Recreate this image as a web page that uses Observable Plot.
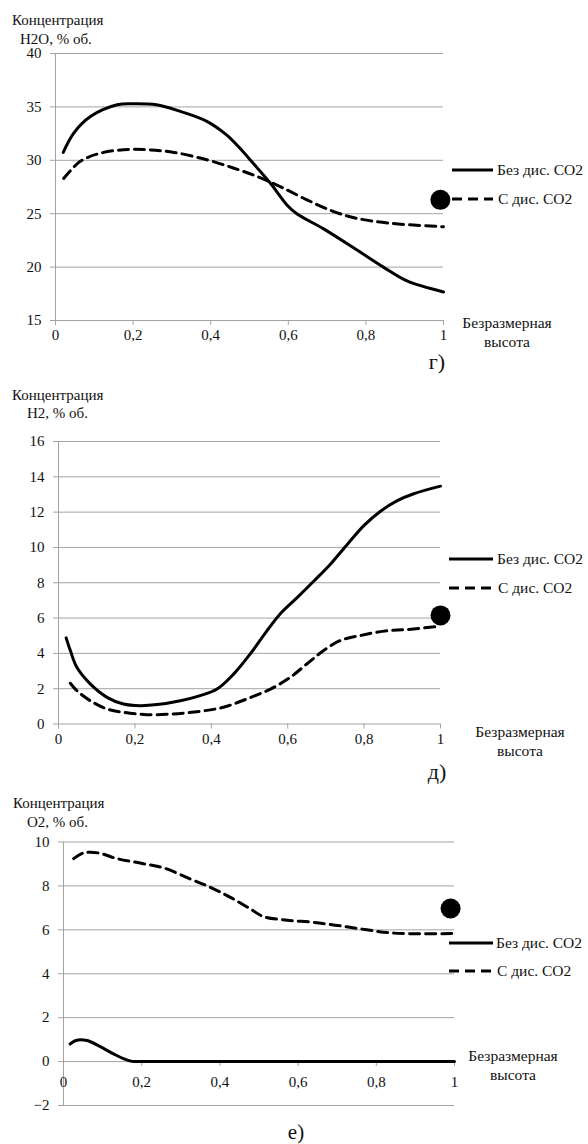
<!DOCTYPE html>
<html>
<head>
<meta charset="utf-8">
<script src="https://cdn.jsdelivr.net/npm/d3@7"></script>
<script src="https://cdn.jsdelivr.net/npm/@observablehq/plot@0.6"></script>
<style>
  html, body { margin: 0; padding: 0; background: #fff; }
  #root { position: relative; width: 588px; height: 1144px; overflow: hidden; background: #fff;
          font-family: "Liberation Serif", "Times New Roman", "DejaVu Serif", serif; color: #111; }
  .lbl { position: absolute; white-space: nowrap; line-height: 1; }
  .pl { position: absolute; left: 0; }
</style>
</head>
<body>
<div id="root"></div>
<script>
// ---------- DATA ----------
const xTicks = [0, 0.2, 0.4, 0.6, 0.8, 1];

// Panel г) — H2O
const h2oTicks = [15, 20, 25, 30, 35, 40];
const h2oNoCO2X = [0.02, 0.047, 0.09, 0.159, 0.2, 0.26, 0.32, 0.39, 0.44, 0.476, 0.51, 0.554, 0.597, 0.622, 0.69, 0.777, 0.845, 0.906, 1];
const h2oNoCO2Y = [30.74, 32.55, 34.1, 35.2, 35.3, 35.2, 34.6, 33.65, 32.4, 31.1, 29.7, 27.85, 25.8, 25.0, 23.6, 21.6, 20.0, 18.7, 17.67];
const h2oCO2X = [0.021, 0.064, 0.116, 0.176, 0.236, 0.305, 0.39, 0.46, 0.52, 0.579, 0.648, 0.717, 0.777, 0.863, 1];
const h2oCO2Y = [28.3, 29.9, 30.67, 30.99, 30.99, 30.74, 30.05, 29.26, 28.48, 27.54, 26.3, 25.2, 24.56, 24.1, 23.78];
const h2oPointX = [0.992];
const h2oPointY = [26.3];

// Panel д) — H2
const h2Ticks = [0, 2, 4, 6, 8, 10, 12, 14, 16];
const h2NoCO2X = [0.02, 0.031, 0.048, 0.083, 0.127, 0.17, 0.214, 0.258, 0.319, 0.371, 0.415, 0.459, 0.502, 0.546, 0.583, 0.626, 0.67, 0.713, 0.757, 0.8, 0.843, 0.887, 0.93, 1];
const h2NoCO2Y = [4.88, 4.16, 3.21, 2.27, 1.51, 1.13, 1.04, 1.10, 1.32, 1.61, 1.98, 2.84, 3.97, 5.29, 6.3, 7.19, 8.13, 9.08, 10.2, 11.25, 12.05, 12.65, 13.04, 13.47];
const h2CO2X = [0.031, 0.048, 0.083, 0.127, 0.17, 0.231, 0.30, 0.371, 0.432, 0.493, 0.555, 0.607, 0.65, 0.694, 0.738, 0.79, 0.852, 0.913, 1];
const h2CO2Y = [2.31, 1.89, 1.32, 0.85, 0.66, 0.53, 0.57, 0.72, 0.95, 1.42, 1.98, 2.65, 3.4, 4.16, 4.73, 5.01, 5.26, 5.35, 5.54];
const h2PointX = [1.0];
const h2PointY = [6.15];

// Panel е) — O2
const o2Ticks = [-2, 0, 2, 4, 6, 8, 10];
const o2NoCO2X = [0.017, 0.03, 0.045, 0.06, 0.094, 0.128, 0.155, 0.18, 0.2, 0.4, 0.6, 0.8, 1];
const o2NoCO2Y = [0.8, 0.95, 1.0, 0.96, 0.68, 0.35, 0.12, 0, 0, 0, 0, 0, 0];
const o2CO2X = [0.026, 0.051, 0.09, 0.137, 0.196, 0.256, 0.324, 0.375, 0.427, 0.478, 0.512, 0.572, 0.64, 0.708, 0.776, 0.845, 1];
const o2CO2Y = [9.24, 9.5, 9.5, 9.24, 9.04, 8.82, 8.32, 7.94, 7.48, 6.95, 6.6, 6.44, 6.34, 6.18, 6.0, 5.85, 5.83];
const o2PointX = [0.99];
const o2PointY = [6.97];

const legendNames = ["Без дис. CO2", "С дис. CO2"];

// ---------- HELPERS ----------
const GRID = "#a3a3a3";
const INK = "#111";
const FONT = "'Liberation Serif', 'Times New Roman', 'DejaVu Serif', serif";
const DASH = "10,6";
const fmt = d => String(d).replace(".", ",");
const root = document.getElementById("root");

const pts = (xs, ys) => xs.map((x, i) => ({x, y: ys[i]}));

function label(text, x, y, {anchor = "start", size = 15} = {}) {
  const el = document.createElement("div");
  el.className = "lbl";
  el.textContent = text;
  el.style.fontSize = size + "px";
  el.style.left = x + "px";
  el.style.top = y + "px";
  const tx = anchor === "middle" ? "-50%" : anchor === "end" ? "-100%" : "0";
  el.style.transform = `translate(${tx}, -50%)`;
  root.appendChild(el);
}

function legend(x1, x2, yS, yD, textX) {
  const ns = "http://www.w3.org/2000/svg";
  const svg = document.createElementNS(ns, "svg");
  svg.setAttribute("width", 588); svg.setAttribute("height", 1144);
  svg.style.position = "absolute"; svg.style.left = "0"; svg.style.top = "0";
  svg.style.pointerEvents = "none";
  [[yS, null], [yD, DASH]].forEach(([y, dash]) => {
    const l = document.createElementNS(ns, "line");
    l.setAttribute("x1", x1); l.setAttribute("x2", x2);
    l.setAttribute("y1", y); l.setAttribute("y2", y);
    l.setAttribute("stroke", "#000"); l.setAttribute("stroke-width", 3);
    if (dash) l.setAttribute("stroke-dasharray", dash);
    svg.appendChild(l);
  });
  root.appendChild(svg);
  label(legendNames[0], textX, yS, {size: 15.5});
  label(legendNames[1], textX + 1, yD, {size: 15.5});
}

function panel({top, height, mL, mR, mT, mB, yDomain, yTicks, solid, dashed, point, zeroAxis, solidCurve = "catmull-rom"}) {
  const marks = [
    Plot.gridY(yTicks, {stroke: GRID, strokeOpacity: 1, strokeWidth: 1}),
    Plot.ruleX([0], {stroke: GRID, strokeWidth: 1}),
    Plot.axisY(yTicks, {tickSize: 5, tickPadding: 9, stroke: GRID, fill: INK, label: null, fontSize: 15})
  ];
  if (zeroAxis) {
    marks.push(
      Plot.ruleX(xTicks, {x: d => d, y1: 0, y2: 0, insetBottom: -5, stroke: GRID}),
      Plot.text(xTicks, {x: d => d, y: 0, dy: 21, text: fmt, fill: INK, fontSize: 15})
    );
  } else {
    marks.push(
      Plot.axisX(xTicks, {tickSize: 5, tickPadding: 4, stroke: GRID, fill: INK, label: null, tickFormat: fmt, fontSize: 15})
    );
  }
  marks.push(
    Plot.line(dashed, {x: "x", y: "y", stroke: "#000", strokeWidth: 3, strokeDasharray: DASH, curve: "catmull-rom"}),
    Plot.line(solid, {x: "x", y: "y", stroke: "#000", strokeWidth: 3, curve: solidCurve}),
    Plot.dot(point, {x: "x", y: "y", r: 10, fill: "#000", stroke: null})
  );
  const chart = Plot.plot({
    width: 588, height,
    marginLeft: mL, marginRight: mR, marginTop: mT, marginBottom: mB,
    x: {domain: [0, 1], axis: null},
    y: {domain: yDomain, axis: null},
    style: {fontFamily: FONT, fontSize: "15px", color: INK, background: "transparent", overflow: "visible"},
    marks
  });
  chart.classList.add("pl");
  chart.style.top = top + "px";
  root.appendChild(chart);
}

// ---------- PANEL г) ----------
panel({top: 0, height: 350, mL: 55, mR: 145, mT: 53, mB: 30,
  yDomain: [15, 40], yTicks: h2oTicks,
  solid: pts(h2oNoCO2X, h2oNoCO2Y), dashed: pts(h2oCO2X, h2oCO2Y), point: pts(h2oPointX, h2oPointY)});
label("Концентрация", 12, 20, {size: 15});
label("H2O, % об.", 20, 39, {size: 15});
legend(452, 493, 170, 199, 497);
label("Безразмерная", 507, 323, {anchor: "middle", size: 15.5});
label("высота", 507, 342, {anchor: "middle", size: 15.5});
label("г)", 437, 362, {anchor: "middle", size: 22});

// ---------- PANEL д) ----------
panel({top: 360, height: 390, mL: 58, mR: 148, mT: 81, mB: 26.5,
  yDomain: [0, 16], yTicks: h2Ticks,
  solid: pts(h2NoCO2X, h2NoCO2Y), dashed: pts(h2CO2X, h2CO2Y), point: pts(h2PointX, h2PointY)});
label("Концентрация", 12, 395, {size: 15});
label("H2, % об.", 27, 413, {size: 15});
legend(449, 493, 559, 588, 497);
label("Безразмерная", 520, 732, {anchor: "middle", size: 15.5});
label("высота", 520, 751, {anchor: "middle", size: 15.5});
label("д)", 437, 772, {anchor: "middle", size: 22});

// ---------- PANEL е) ----------
panel({top: 780, height: 340, mL: 63, mR: 134, mT: 61.5, mB: 15,
  yDomain: [-2, 10], yTicks: o2Ticks, zeroAxis: true, solidCurve: "monotone-x",
  solid: pts(o2NoCO2X, o2NoCO2Y), dashed: pts(o2CO2X, o2CO2Y), point: pts(o2PointX, o2PointY)});
label("Концентрация", 13, 803, {size: 15});
label("O2, % об.", 27, 822, {size: 15});
legend(449, 493, 943, 971, 496);
label("Безразмерная", 513, 1056, {anchor: "middle", size: 15.5});
label("высота", 513, 1075, {anchor: "middle", size: 15.5});
label("е)", 296, 1132, {anchor: "middle", size: 21});
</script>
</body>
</html>
